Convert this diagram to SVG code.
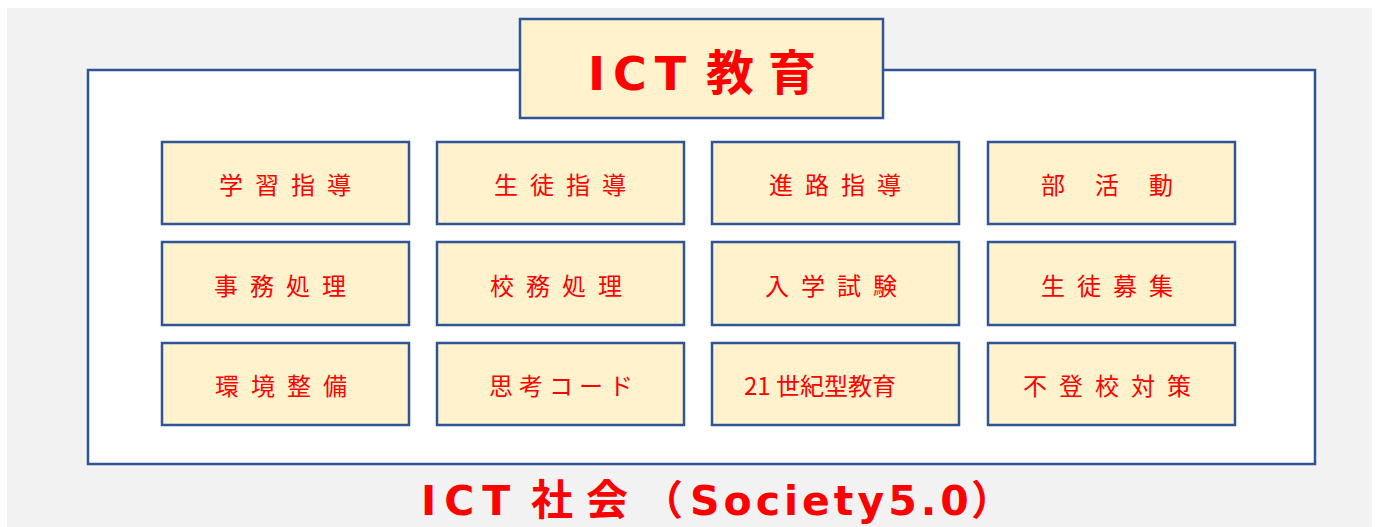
<svg xmlns="http://www.w3.org/2000/svg" width="1378" height="527" viewBox="0 0 1378 527">
<style>
.box{fill:#FFF2CC;stroke:#2F5597;stroke-width:2.5}
.lbl{font-family:"Noto Sans CJK JP","Noto Sans",sans-serif;font-size:24px;fill:#FF0000;text-anchor:middle}
.big{font-family:"DejaVu Sans","Noto Sans CJK JP",sans-serif;font-weight:bold;fill:#FF0000}
</style>
<rect x="0" y="0" width="1378" height="527" fill="#FFFFFF"/>
<rect x="7" y="8" width="1365" height="519" fill="#F2F2F2"/>
<g id="society">
<rect x="88" y="70" width="1227" height="394" fill="#FFFFFF" stroke="#2F5597" stroke-width="2.5"/>
<text class="big" x="421" y="515" font-size="41" letter-spacing="8"><tspan>ICT</tspan><tspan x="531" font-size="42" letter-spacing="13">社会</tspan><tspan x="642" letter-spacing="0">（</tspan><tspan x="690" letter-spacing="4">Society5.0</tspan><tspan x="971" letter-spacing="0">）</tspan></text>
</g>
<g id="ict-education">
<rect class="box" x="520" y="19" width="363" height="99"/>
<text class="big" x="588" y="90" font-size="46" letter-spacing="8"><tspan>ICT</tspan><tspan x="706" font-size="48" letter-spacing="14">教育</tspan></text>
</g>
<g id="n1"><rect class="box" x="162" y="142" width="247" height="82"/><text class="lbl" x="291" y="194" letter-spacing="12">学習指導</text></g>
<g id="n2"><rect class="box" x="437" y="142" width="247" height="82"/><text class="lbl" x="566" y="194" letter-spacing="12">生徒指導</text></g>
<g id="n3"><rect class="box" x="712" y="142" width="247" height="82"/><text class="lbl" x="841" y="194" letter-spacing="12">進路指導</text></g>
<g id="n4"><rect class="box" x="988" y="142" width="247" height="82"/><text class="lbl" x="1122" y="194" letter-spacing="30">部活動</text></g>
<g id="n5"><rect class="box" x="162" y="242" width="247" height="83"/><text class="lbl" x="286" y="295" letter-spacing="12">事務処理</text></g>
<g id="n6"><rect class="box" x="437" y="242" width="247" height="83"/><text class="lbl" x="562" y="295" letter-spacing="12">校務処理</text></g>
<g id="n7"><rect class="box" x="712" y="242" width="247" height="83"/><text class="lbl" x="837" y="295" letter-spacing="12">入学試験</text></g>
<g id="n8"><rect class="box" x="988" y="242" width="247" height="83"/><text class="lbl" x="1113" y="295" letter-spacing="12">生徒募集</text></g>
<g id="n9"><rect class="box" x="162" y="343" width="247" height="82"/><text class="lbl" x="287" y="395" letter-spacing="12">環境整備</text></g>
<g id="n10"><rect class="box" x="437" y="343" width="247" height="82"/><text class="lbl" x="564" y="395" letter-spacing="6">思考コード</text></g>
<g id="n11"><rect class="box" x="712" y="343" width="247" height="82"/><text class="lbl" x="820" y="395">21 世紀型教育</text></g>
<g id="n12"><rect class="box" x="988" y="343" width="247" height="82"/><text class="lbl" x="1113" y="395" letter-spacing="12">不登校対策</text></g>
<g id="connectors"></g>
</svg>
